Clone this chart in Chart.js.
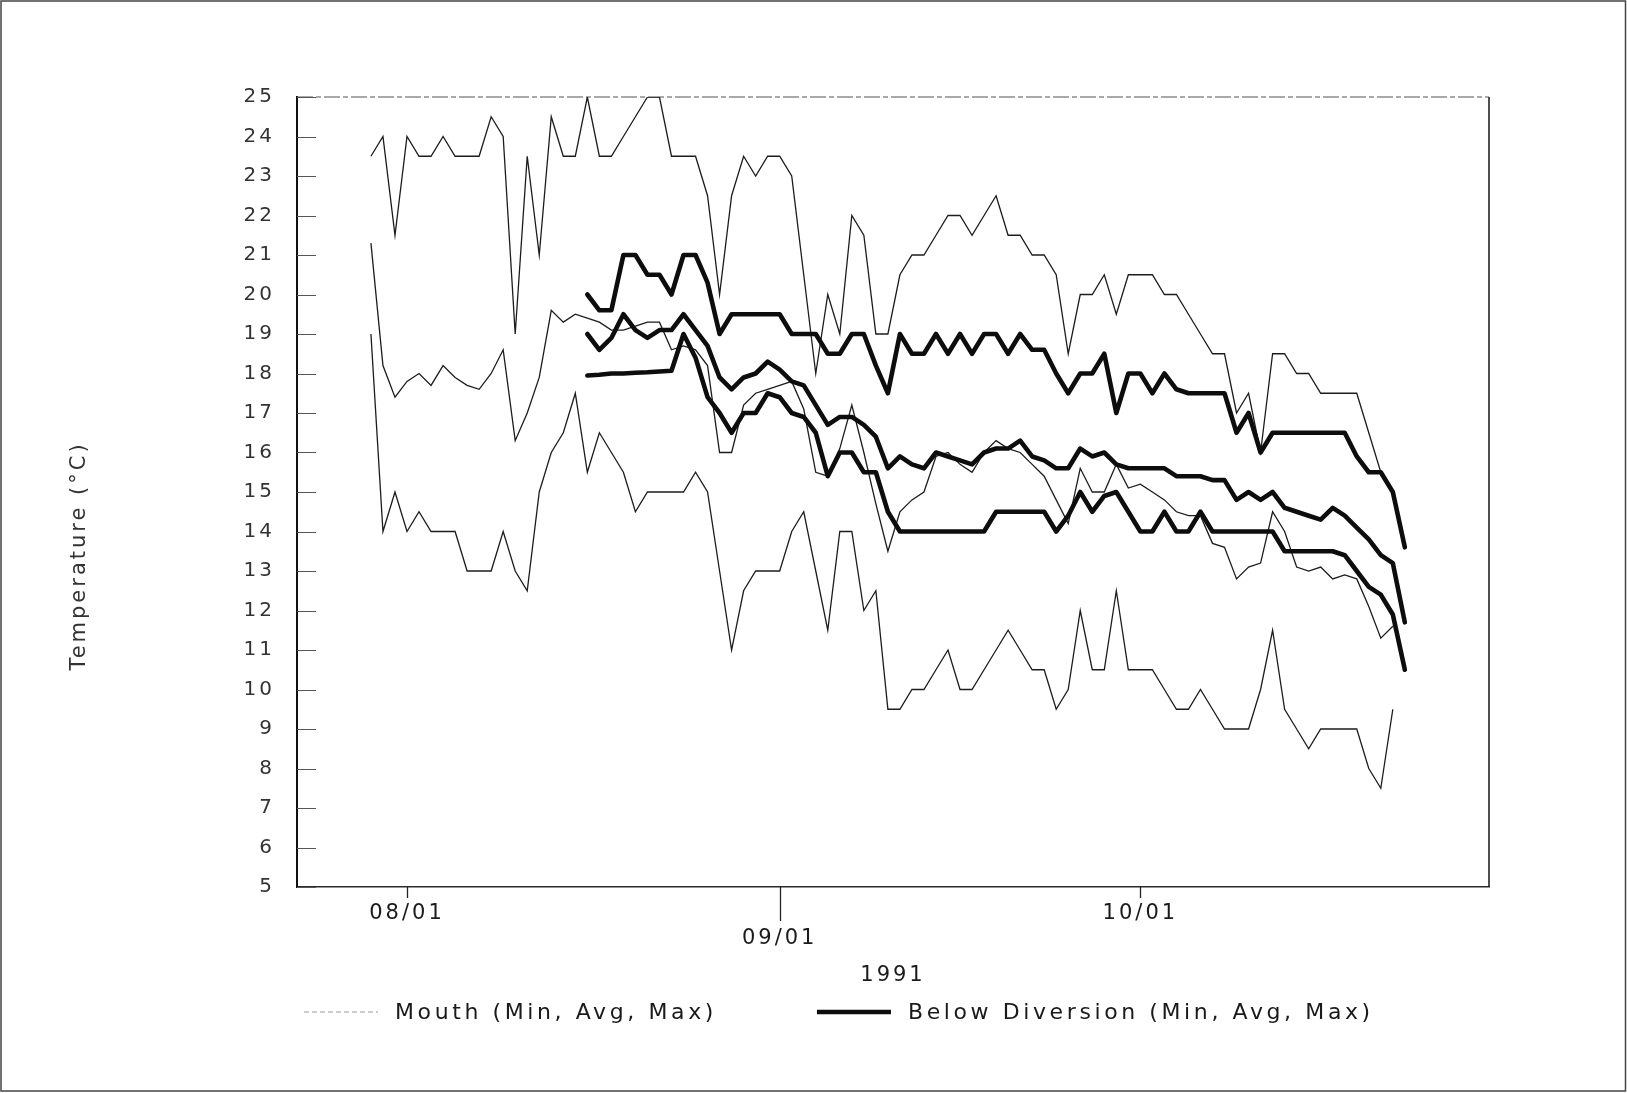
<!DOCTYPE html>
<html>
<head>
<meta charset="utf-8">
<title>Temperature 1991</title>
<script src="https://cdn.jsdelivr.net/npm/chart.js@4.4.1/dist/chart.umd.min.js"></script>
<style>
  html, body { margin: 0; padding: 0; background: #fff; }
  #chart { display: block; }
</style>
</head>
<body>
<canvas id="chart" width="1627" height="1093"></canvas>
<script>
// x values are days counted from 08/01/1991 (0 = Aug 1)
const mouthStartDay = -3;
const belowStartDay = 15;

const mouthMax = [
  23.5, 24.0, 21.5, 24.0, 23.5, 23.5, 24.0, 23.5, 23.5, 23.5,
  24.5, 24.0, 19.0, 23.5, 21.0, 24.5, 23.5, 23.5, 25.0, 23.5,
  23.5, 24.0, 24.5, 25.0, 25.0, 23.5, 23.5, 23.5, 22.5, 20.0,
  22.5, 23.5, 23.0, 23.5, 23.5, 23.0, 20.5, 18.0, 20.0, 19.0,
  22.0, 21.5, 19.0, 19.0, 20.5, 21.0, 21.0, 21.5, 22.0, 22.0,
  21.5, 22.0, 22.5, 21.5, 21.5, 21.0, 21.0, 20.5, 18.5, 20.0,
  20.0, 20.5, 19.5, 20.5, 20.5, 20.5, 20.0, 20.0, 19.5, 19.0,
  18.5, 18.5, 17.0, 17.5, 16.0, 18.5, 18.5, 18.0, 18.0, 17.5,
  17.5, 17.5, 17.5, 16.5, 15.5, 15.0
];
const mouthAvg = [
  21.3, 18.2, 17.4, 17.8, 18.0, 17.7, 18.2, 17.9, 17.7, 17.6,
  18.0, 18.6, 16.3, 17.0, 17.9, 19.6, 19.3, 19.5, 19.4, 19.3,
  19.1, 19.1, 19.2, 19.3, 19.3, 18.6, 18.7, 18.6, 18.2, 16.0,
  16.0, 17.2, 17.5, 17.6, 17.7, 17.8, 17.1, 15.5, 15.4, 16.1,
  17.2, 16.0, 14.7, 13.5, 14.5, 14.8, 15.0, 15.9, 16.0, 15.7,
  15.5, 16.0, 16.3, 16.1, 16.0, 15.7, 15.4, 14.8, 14.2, 15.6,
  15.0, 15.0, 15.7, 15.1, 15.2, 15.0, 14.8, 14.5, 14.4, 14.4,
  13.7, 13.6, 12.8, 13.1, 13.2, 14.5, 14.0, 13.1, 13.0, 13.1,
  12.8, 12.9, 12.8, 12.1, 11.3, 11.6
];
const mouthMin = [
  19.0, 14.0, 15.0, 14.0, 14.5, 14.0, 14.0, 14.0, 13.0, 13.0,
  13.0, 14.0, 13.0, 12.5, 15.0, 16.0, 16.5, 17.5, 15.5, 16.5,
  16.0, 15.5, 14.5, 15.0, 15.0, 15.0, 15.0, 15.5, 15.0, 13.0,
  11.0, 12.5, 13.0, 13.0, 13.0, 14.0, 14.5, 13.0, 11.5, 14.0,
  14.0, 12.0, 12.5, 9.5, 9.5, 10.0, 10.0, 10.5, 11.0, 10.0,
  10.0, 10.5, 11.0, 11.5, 11.0, 10.5, 10.5, 9.5, 10.0, 12.0,
  10.5, 10.5, 12.5, 10.5, 10.5, 10.5, 10.0, 9.5, 9.5, 10.0,
  9.5, 9.0, 9.0, 9.0, 10.0, 11.5, 9.5, 9.0, 8.5, 9.0,
  9.0, 9.0, 9.0, 8.0, 7.5, 9.5
];

const belowMax = [
  20.0, 19.6, 19.6, 21.0, 21.0, 20.5, 20.5, 20.0, 21.0, 21.0,
  20.3, 19.0, 19.5, 19.5, 19.5, 19.5, 19.5, 19.0, 19.0, 19.0,
  18.5, 18.5, 19.0, 19.0, 18.2, 17.5, 19.0, 18.5, 18.5, 19.0,
  18.5, 19.0, 18.5, 19.0, 19.0, 18.5, 19.0, 18.6, 18.6, 18.0,
  17.5, 18.0, 18.0, 18.5, 17.0, 18.0, 18.0, 17.5, 18.0, 17.6,
  17.5, 17.5, 17.5, 17.5, 16.5, 17.0, 16.0, 16.5, 16.5, 16.5,
  16.5, 16.5, 16.5, 16.5, 15.9, 15.5, 15.5, 15.0, 13.6
];
const belowAvg = [
  19.0, 18.6, 18.9, 19.5, 19.1, 18.9, 19.1, 19.1, 19.5, 19.1,
  18.7, 17.9, 17.6, 17.9, 18.0, 18.3, 18.1, 17.8, 17.7, 17.2,
  16.7, 16.9, 16.9, 16.7, 16.4, 15.6, 15.9, 15.7, 15.6, 16.0,
  15.9, 15.8, 15.7, 16.0, 16.1, 16.1, 16.3, 15.9, 15.8, 15.6,
  15.6, 16.1, 15.9, 16.0, 15.7, 15.6, 15.6, 15.6, 15.6, 15.4,
  15.4, 15.4, 15.3, 15.3, 14.8, 15.0, 14.8, 15.0, 14.6, 14.5,
  14.4, 14.3, 14.6, 14.4, 14.1, 13.8, 13.4, 13.2, 11.7
];
const belowMin = [
  17.95, 17.97, 18.0, 18.0, 18.02, 18.03, 18.05, 18.07, 19.0, 18.4,
  17.4, 17.0, 16.5, 17.0, 17.0, 17.5, 17.4, 17.0, 16.9, 16.5,
  15.4, 16.0, 16.0, 15.5, 15.5, 14.5, 14.0, 14.0, 14.0, 14.0,
  14.0, 14.0, 14.0, 14.0, 14.5, 14.5, 14.5, 14.5, 14.5, 14.0,
  14.4, 15.0, 14.5, 14.9, 15.0, 14.5, 14.0, 14.0, 14.5, 14.0,
  14.0, 14.5, 14.0, 14.0, 14.0, 14.0, 14.0, 14.0, 13.5, 13.5,
  13.5, 13.5, 13.5, 13.4, 13.0, 12.6, 12.4, 11.9, 10.5
];

const xTickDays = [0, 31, 61];
const xTickLabels = ['08/01', '09/01', '10/01'];
const yTickValues = [5, 6, 7, 8, 9, 10, 11, 12, 13, 14, 15, 16, 17, 18, 19, 20, 21, 22, 23, 24, 25];
const legendLabels = ['Mouth (Min, Avg, Max)', 'Below Diversion (Min, Avg, Max)'];
const xTitle = '1991';
const yTitle = 'Temperature (°C)';

const FONT = '"DejaVu Sans", sans-serif';
const INK = '#1a1a1a';

function points(startDay, values) {
    return values.map((v, i) => ({ x: startDay + i, y: v }));
}

function thick(label, startDay, values) {
    return {
        label, data: points(startDay, values),
        borderColor: '#0d0d0d', borderWidth: 4.6,
        borderJoinStyle: 'round', borderCapStyle: 'round',
        pointRadius: 0, tension: 0, fill: false
    };
}

function thin(label, startDay, values) {
    return {
        label, data: points(startDay, values),
        borderColor: '#1c1c1c', borderWidth: 1.3,
        borderJoinStyle: 'miter', pointRadius: 0, tension: 0, fill: false
    };
}

// --- letter spacing for the plotter-like text ---
const spacing = {
    id: 'spacing',
    beforeUpdate(chart) { chart.ctx.letterSpacing = '3px'; },
    beforeDraw(chart) { chart.ctx.letterSpacing = '3px'; }
};

// --- frame, tick marks, y title and legend ---
const frame = {
    id: 'frame',
    beforeDatasetsDraw(chart) {
        const { ctx, chartArea: a, scales: { x, y } } = chart;
        ctx.save();
        ctx.strokeStyle = '#555';
        ctx.lineWidth = 1;
        yTickValues.forEach(v => {
            const py = Math.round(y.getPixelForValue(v)) + 0.5;
            ctx.beginPath();
            ctx.moveTo(a.left, py);
            ctx.lineTo(a.left + 19, py);
            ctx.stroke();
        });
        ctx.strokeStyle = '#222';
        ctx.lineWidth = 1.6;
        ctx.beginPath();
        ctx.moveTo(a.right, a.top);
        ctx.lineTo(a.right, a.bottom);
        ctx.stroke();
        ctx.strokeStyle = '#555';
        ctx.lineWidth = 1.2;
        ctx.setLineDash([16, 3, 5, 3]);
        ctx.beginPath();
        ctx.moveTo(a.left, a.top);
        ctx.lineTo(a.right, a.top);
        ctx.stroke();
        ctx.setLineDash([]);
        ctx.strokeStyle = '#222';
        ctx.lineWidth = 1.3;
        xTickDays.forEach((d, i) => {
            const px = Math.round(x.getPixelForValue(d)) + 0.5;
            ctx.beginPath();
            ctx.moveTo(px, a.bottom);
            ctx.lineTo(px, a.bottom + (i % 2 ? 34 : 11));
            ctx.stroke();
        });
        ctx.restore();
    },
    afterDraw(chart) {
        const { ctx, chartArea: a } = chart;
        ctx.save();
        ctx.letterSpacing = '3px';
        // y axis title
        ctx.translate(80, 556);
        ctx.rotate(-Math.PI / 2);
        ctx.font = '21px ' + FONT;
        ctx.fillStyle = '#333';
        ctx.textAlign = 'center';
        ctx.textBaseline = 'middle';
        ctx.fillText(yTitle, 0, 0);
        ctx.restore();

        // legend
        ctx.save();
        ctx.letterSpacing = '3.6px';
        ctx.font = '22px ' + FONT;
        ctx.textBaseline = 'middle';
        ctx.textAlign = 'left';
        ctx.fillStyle = INK;
        const ly = a.bottom + 125;
        let lx = 304;
        legendLabels.forEach((text, i) => {
            ctx.beginPath();
            if (i === 0) {
                ctx.strokeStyle = '#999';
                ctx.lineWidth = 1;
                ctx.setLineDash([5, 3]);
            } else {
                ctx.strokeStyle = '#0d0d0d';
                ctx.lineWidth = 4.6;
                ctx.setLineDash([]);
            }
            ctx.moveTo(lx, ly);
            ctx.lineTo(lx + 74, ly);
            ctx.stroke();
            ctx.fillText(text, lx + 91, ly + 1);
            lx += 91 + ctx.measureText(text).width + 100;
        });
        ctx.restore();

        // page border
        ctx.save();
        ctx.strokeStyle = '#444';
        ctx.lineWidth = 1.5;
        ctx.strokeRect(1, 1, chart.width - 2.5, chart.height - 3);
        ctx.restore();
    }
};

new Chart(document.getElementById('chart'), {
    type: 'line',
    data: {
        datasets: [
            thick('Below Diversion Max', belowStartDay, belowMax),
            thick('Below Diversion Avg', belowStartDay, belowAvg),
            thick('Below Diversion Min', belowStartDay, belowMin),
            thin('Mouth Max', mouthStartDay, mouthMax),
            thin('Mouth Avg', mouthStartDay, mouthAvg),
            thin('Mouth Min', mouthStartDay, mouthMin)
        ]
    },
    options: {
        responsive: false,
        animation: false,
        layout: { padding: { left: 0, right: 138, top: 97, bottom: 103 } },
        scales: {
            x: {
                type: 'linear',
                min: -9.15,
                max: 90,
                afterBuildTicks: s => { s.ticks = xTickDays.map(v => ({ value: v })); },
                afterFit: s => { s.height = 103; },
                grid: { display: false, drawTicks: false },
                border: { display: true, color: '#2a2a2a', width: 1.6 },
                ticks: {
                    autoSkip: false, maxRotation: 0, padding: 14,
                    color: INK, font: { family: FONT, size: 21 },
                    callback: (v, i) => (i % 2 ? ['', xTickLabels[i]] : xTickLabels[i])
                },
                title: {
                    display: true, text: xTitle, color: INK,
                    font: { family: FONT, size: 21 }, padding: { top: 0, bottom: 2 }
                }
            },
            y: {
                min: 5,
                max: 25,
                afterBuildTicks: s => { s.ticks = yTickValues.map(v => ({ value: v })); },
                afterFit: s => { s.width = 297; },
                grid: { display: false, drawTicks: false },
                border: { display: true, color: '#111', width: 2 },
                ticks: {
                    padding: 22, color: '#333',
                    font: { family: FONT, size: 20 }
                }
            }
        },
        plugins: {
            legend: { display: false },
            tooltip: { enabled: false }
        }
    },
    plugins: [spacing, frame]
});
</script>
</body>
</html>
